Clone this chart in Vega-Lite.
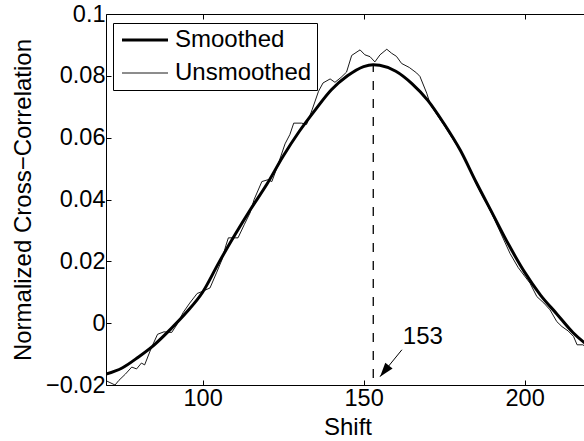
{
  "$schema": "https://vega.github.io/schema/vega-lite/v6.json",
  "width": 483,
  "height": 371,
  "autosize": {"type": "none"},
  "padding": {"left": 106, "top": 14, "right": 0, "bottom": 56},
  "background": "white",
  "config": {
    "font": "Liberation Sans",
    "view": {"stroke": null},
    "axis": {
      "grid": false,
      "domainColor": "#000000",
      "domainWidth": 1,
      "tickColor": "#000000",
      "tickWidth": 1,
      "tickSize": -5,
      "labelColor": "#000000",
      "titleColor": "#000000",
      "labelFontSize": 23.5,
      "titleFontSize": 24,
      "titleFontWeight": "normal",
      "labelFont": "Liberation Sans",
      "titleFont": "Liberation Sans"
    }
  },
  "datasets": {
    "curves": [
      {"shift": 70, "value": -0.0165, "series": "Smoothed"},
      {"shift": 75, "value": -0.0145, "series": "Smoothed"},
      {"shift": 80, "value": -0.0110, "series": "Smoothed"},
      {"shift": 85, "value": -0.0070, "series": "Smoothed"},
      {"shift": 90, "value": -0.0020, "series": "Smoothed"},
      {"shift": 95, "value": 0.0035, "series": "Smoothed"},
      {"shift": 100, "value": 0.0100, "series": "Smoothed"},
      {"shift": 105, "value": 0.0195, "series": "Smoothed"},
      {"shift": 110, "value": 0.0285, "series": "Smoothed"},
      {"shift": 115, "value": 0.0370, "series": "Smoothed"},
      {"shift": 120, "value": 0.0450, "series": "Smoothed"},
      {"shift": 125, "value": 0.0540, "series": "Smoothed"},
      {"shift": 130, "value": 0.0620, "series": "Smoothed"},
      {"shift": 135, "value": 0.0690, "series": "Smoothed"},
      {"shift": 140, "value": 0.0755, "series": "Smoothed"},
      {"shift": 145, "value": 0.0800, "series": "Smoothed"},
      {"shift": 150, "value": 0.0830, "series": "Smoothed"},
      {"shift": 153, "value": 0.0836, "series": "Smoothed"},
      {"shift": 155, "value": 0.0834, "series": "Smoothed"},
      {"shift": 160, "value": 0.0815, "series": "Smoothed"},
      {"shift": 165, "value": 0.0775, "series": "Smoothed"},
      {"shift": 170, "value": 0.0720, "series": "Smoothed"},
      {"shift": 175, "value": 0.0645, "series": "Smoothed"},
      {"shift": 180, "value": 0.0560, "series": "Smoothed"},
      {"shift": 185, "value": 0.0455, "series": "Smoothed"},
      {"shift": 190, "value": 0.0355, "series": "Smoothed"},
      {"shift": 195, "value": 0.0255, "series": "Smoothed"},
      {"shift": 200, "value": 0.0165, "series": "Smoothed"},
      {"shift": 205, "value": 0.0090, "series": "Smoothed"},
      {"shift": 210, "value": 0.0030, "series": "Smoothed"},
      {"shift": 215, "value": -0.0030, "series": "Smoothed"},
      {"shift": 220, "value": -0.0075, "series": "Smoothed"},
      {"shift": 70, "value": -0.0186, "series": "Unsmoothed"},
      {"shift": 72.8, "value": -0.0200, "series": "Unsmoothed"},
      {"shift": 74, "value": -0.0185, "series": "Unsmoothed"},
      {"shift": 76, "value": -0.0165, "series": "Unsmoothed"},
      {"shift": 78, "value": -0.0142, "series": "Unsmoothed"},
      {"shift": 79.5, "value": -0.0148, "series": "Unsmoothed"},
      {"shift": 81, "value": -0.0129, "series": "Unsmoothed"},
      {"shift": 82, "value": -0.0135, "series": "Unsmoothed"},
      {"shift": 84, "value": -0.0082, "series": "Unsmoothed"},
      {"shift": 86, "value": -0.0036, "series": "Unsmoothed"},
      {"shift": 88, "value": -0.0028, "series": "Unsmoothed"},
      {"shift": 90.4, "value": -0.0030, "series": "Unsmoothed"},
      {"shift": 92, "value": -0.0005, "series": "Unsmoothed"},
      {"shift": 94, "value": 0.0035, "series": "Unsmoothed"},
      {"shift": 96, "value": 0.0065, "series": "Unsmoothed"},
      {"shift": 98.3, "value": 0.0096, "series": "Unsmoothed"},
      {"shift": 100, "value": 0.0103, "series": "Unsmoothed"},
      {"shift": 102.3, "value": 0.0114, "series": "Unsmoothed"},
      {"shift": 104.4, "value": 0.0165, "series": "Unsmoothed"},
      {"shift": 106, "value": 0.0205, "series": "Unsmoothed"},
      {"shift": 107.2, "value": 0.0250, "series": "Unsmoothed"},
      {"shift": 108, "value": 0.0276, "series": "Unsmoothed"},
      {"shift": 111, "value": 0.0276, "series": "Unsmoothed"},
      {"shift": 113, "value": 0.0320, "series": "Unsmoothed"},
      {"shift": 114.7, "value": 0.0356, "series": "Unsmoothed"},
      {"shift": 116, "value": 0.0400, "series": "Unsmoothed"},
      {"shift": 118.4, "value": 0.0458, "series": "Unsmoothed"},
      {"shift": 120.3, "value": 0.0464, "series": "Unsmoothed"},
      {"shift": 121.5, "value": 0.0458, "series": "Unsmoothed"},
      {"shift": 123, "value": 0.0500, "series": "Unsmoothed"},
      {"shift": 125.6, "value": 0.0580, "series": "Unsmoothed"},
      {"shift": 127.1, "value": 0.0610, "series": "Unsmoothed"},
      {"shift": 128.3, "value": 0.0647, "series": "Unsmoothed"},
      {"shift": 130.7, "value": 0.0647, "series": "Unsmoothed"},
      {"shift": 132.3, "value": 0.0643, "series": "Unsmoothed"},
      {"shift": 134, "value": 0.0690, "series": "Unsmoothed"},
      {"shift": 136, "value": 0.0750, "series": "Unsmoothed"},
      {"shift": 137.4, "value": 0.0777, "series": "Unsmoothed"},
      {"shift": 139.6, "value": 0.0790, "series": "Unsmoothed"},
      {"shift": 141.1, "value": 0.0779, "series": "Unsmoothed"},
      {"shift": 143, "value": 0.0795, "series": "Unsmoothed"},
      {"shift": 144.7, "value": 0.0812, "series": "Unsmoothed"},
      {"shift": 146.3, "value": 0.0866, "series": "Unsmoothed"},
      {"shift": 148.9, "value": 0.0884, "series": "Unsmoothed"},
      {"shift": 150.4, "value": 0.0868, "series": "Unsmoothed"},
      {"shift": 152, "value": 0.0862, "series": "Unsmoothed"},
      {"shift": 153.5, "value": 0.0845, "series": "Unsmoothed"},
      {"shift": 155.1, "value": 0.0868, "series": "Unsmoothed"},
      {"shift": 157.2, "value": 0.0886, "series": "Unsmoothed"},
      {"shift": 158.7, "value": 0.0873, "series": "Unsmoothed"},
      {"shift": 160.2, "value": 0.0863, "series": "Unsmoothed"},
      {"shift": 161.8, "value": 0.0840, "series": "Unsmoothed"},
      {"shift": 164.2, "value": 0.0827, "series": "Unsmoothed"},
      {"shift": 166.5, "value": 0.0809, "series": "Unsmoothed"},
      {"shift": 167.5, "value": 0.0798, "series": "Unsmoothed"},
      {"shift": 169.6, "value": 0.0744, "series": "Unsmoothed"},
      {"shift": 170.8, "value": 0.0705, "series": "Unsmoothed"},
      {"shift": 175, "value": 0.0640, "series": "Unsmoothed"},
      {"shift": 180, "value": 0.0558, "series": "Unsmoothed"},
      {"shift": 182.5, "value": 0.0512, "series": "Unsmoothed"},
      {"shift": 185, "value": 0.0450, "series": "Unsmoothed"},
      {"shift": 190, "value": 0.0350, "series": "Unsmoothed"},
      {"shift": 195.5, "value": 0.0225, "series": "Unsmoothed"},
      {"shift": 198, "value": 0.0180, "series": "Unsmoothed"},
      {"shift": 201.7, "value": 0.0129, "series": "Unsmoothed"},
      {"shift": 203.8, "value": 0.0086, "series": "Unsmoothed"},
      {"shift": 206, "value": 0.0065, "series": "Unsmoothed"},
      {"shift": 207.9, "value": 0.0043, "series": "Unsmoothed"},
      {"shift": 210, "value": 0.0005, "series": "Unsmoothed"},
      {"shift": 211.6, "value": -0.0011, "series": "Unsmoothed"},
      {"shift": 213.5, "value": -0.0025, "series": "Unsmoothed"},
      {"shift": 215.2, "value": -0.0043, "series": "Unsmoothed"},
      {"shift": 216.3, "value": -0.0070, "series": "Unsmoothed"},
      {"shift": 218.1, "value": -0.0070, "series": "Unsmoothed"},
      {"shift": 220, "value": -0.0085, "series": "Unsmoothed"}
    ],
    "peak": [{"shift": 153, "low": -0.0177, "high": 0.0836}],
    "arrow": [{"x1": 161.9, "y1": -0.0086, "x2": 155.1, "y2": -0.0173, "label": "153", "tx": 168.4, "ty": -0.0044}]
  },
  "resolve": {"axis": {"x": "independent", "y": "independent"}},
  "layer": [
    {
      "data": {"name": "curves"},
      "transform": [{"filter": "datum.series === 'Unsmoothed'"}],
      "mark": {"type": "line", "color": "#000000", "interpolate": "linear", "clip": true},
      "encoding": {
        "x": {"field": "shift", "type": "quantitative", "scale": {"domain": [70, 220], "nice": false, "zero": false},
              "axis": {"orient": "bottom", "values": [100, 150, 200], "title": "Shift", "labelPadding": 6, "titlePadding": 6}},
        "y": {"field": "value", "type": "quantitative", "scale": {"domain": [-0.02, 0.1], "nice": false, "zero": false},
              "axis": {"orient": "left", "values": [-0.02, 0, 0.02, 0.04, 0.06, 0.08, 0.1], "format": "~g", "title": "Normalized Cross−Correlation", "labelPadding": 6, "titlePadding": 10}},
        "strokeWidth": {"field": "series", "type": "nominal", "scale": {"domain": ["Smoothed", "Unsmoothed"], "range": [3, 0.9]},
          "legend": {"title": null, "orient": "none", "legendX": 7, "legendY": 9, "symbolType": "M-2.3,0L2.3,0", "symbolSize": 400,
                     "symbolStrokeColor": "#000000", "symbolFillColor": "transparent", "labelFontSize": 24, "labelColor": "#000000", "labelFont": "Liberation Sans", "strokeColor": "#000000", "fillColor": "#ffffff",
                     "padding": 5, "rowPadding": 9, "labelOffset": 18, "symbolOffset": 15, "labelExpr": "datum.label + '  '"}}
      }
    },
    {
      "data": {"name": "curves"},
      "transform": [{"filter": "datum.series === 'Smoothed'"}],
      "mark": {"type": "line", "color": "#000000", "interpolate": "monotone", "clip": true},
      "encoding": {
        "x": {"field": "shift", "type": "quantitative", "axis": null},
        "y": {"field": "value", "type": "quantitative", "axis": null},
        "strokeWidth": {"field": "series", "type": "nominal"}
      }
    },
    {
      "data": {"name": "peak"},
      "mark": {"type": "rule", "color": "#000000", "strokeWidth": 1.3, "strokeDash": [9, 9]},
      "encoding": {
        "x": {"field": "shift", "type": "quantitative", "axis": {"orient": "top", "values": [100, 150, 200], "labels": false, "title": null}},
        "y": {"field": "low", "type": "quantitative", "axis": {"orient": "right", "values": [-0.02, 0, 0.02, 0.04, 0.06, 0.08, 0.1], "labels": false, "title": null}},
        "y2": {"field": "high"}
      }
    },
    {
      "data": {"name": "arrow"},
      "mark": {"type": "rule", "color": "#000000", "strokeWidth": 1},
      "encoding": {
        "x": {"field": "x1", "type": "quantitative", "axis": null},
        "y": {"field": "y1", "type": "quantitative", "axis": null},
        "x2": {"field": "x2"},
        "y2": {"field": "y2"}
      }
    },
    {
      "data": {"name": "arrow"},
      "mark": {"type": "point", "shape": "M0,0L-0.33,1L0.33,1Z", "filled": true, "color": "#000000", "size": 800, "angle": 219, "opacity": 1},
      "encoding": {
        "x": {"field": "x2", "type": "quantitative", "axis": null},
        "y": {"field": "y2", "type": "quantitative", "axis": null}
      }
    },
    {
      "data": {"name": "arrow"},
      "mark": {"type": "text", "fontSize": 24, "color": "#000000", "font": "Liberation Sans", "align": "center", "baseline": "middle"},
      "encoding": {
        "x": {"field": "tx", "type": "quantitative", "axis": null},
        "y": {"field": "ty", "type": "quantitative", "axis": null},
        "text": {"field": "label"}
      }
    }
  ]
}
